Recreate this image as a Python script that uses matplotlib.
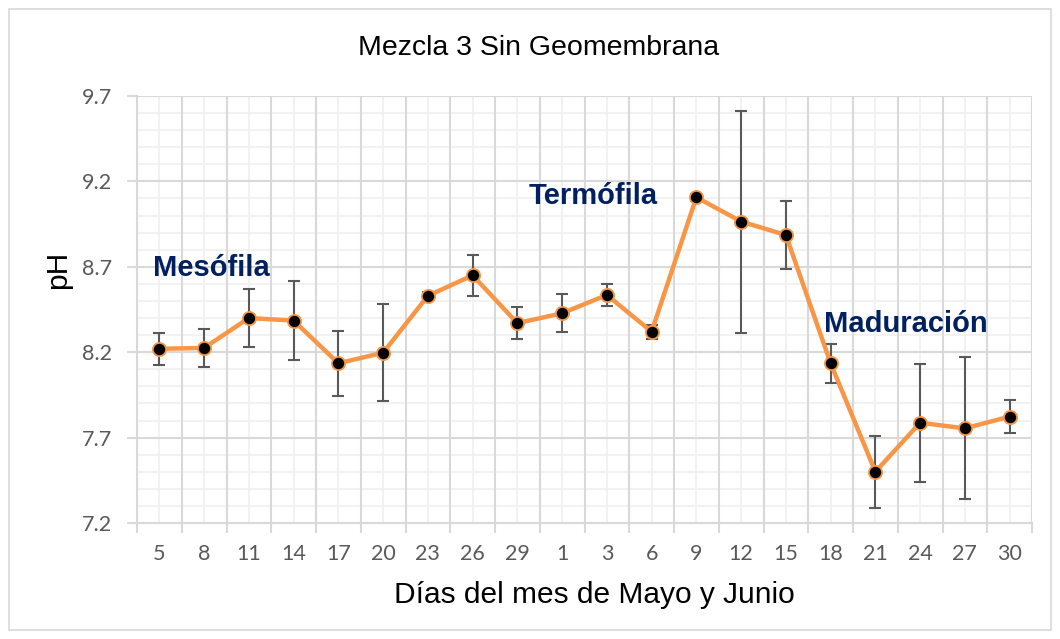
import matplotlib
import numpy as np

matplotlib.use("Agg")
import matplotlib.pyplot as plt
from matplotlib.patches import Rectangle
from matplotlib.ticker import MultipleLocator

DAYS = ["5", "8", "11", "14", "17", "20", "23", "26", "29", "1",
        "3", "6", "9", "12", "15", "18", "21", "24", "27", "30"]
PH = [8.22, 8.225, 8.40, 8.385, 8.135, 8.197, 8.53, 8.65, 8.37, 8.428,
      8.535, 8.32, 9.107, 8.965, 8.886, 8.135, 7.50, 7.787, 7.754, 7.823]
PH_ERR = [0.095, 0.11, 0.17, 0.23, 0.19, 0.285, 0.02, 0.12, 0.095, 0.11,
          0.065, 0.04, 0.02, 0.65, 0.20, 0.113, 0.21, 0.345, 0.415, 0.098]
PHASES = [("Mesófila", -0.14, 8.693), ("Termófila", 8.26, 9.115), ("Maduración", 14.85, 8.365)]

GRID_MAJ = "#d9d9d9"
GRID_MIN = "#f0f0f0"
TICK_C = "#595959"

fig = plt.figure(figsize=(10.6, 6.39), dpi=100)
fig.patches.append(Rectangle((9 / 1060, 9 / 639), 1 - 18 / 1060, 1 - 18 / 639,
                             transform=fig.transFigure, fill=False,
                             edgecolor="#d9d9d9", lw=1.2))
ax = fig.add_axes([137 / 1060, 1 - 523 / 639, (1032 - 137) / 1060, (523 - 96) / 639])

x = np.arange(len(DAYS))
ax.errorbar(x, PH, yerr=PH_ERR, fmt="none", ecolor=TICK_C, elinewidth=1.5,
            capsize=4.5, capthick=1.5, zorder=3)
ax.plot(x, PH, color="#f79646", lw=3.2, marker="o", ms=9.5, mfc="black",
        mec="#f79646", mew=1.3, zorder=4)

ax.set_xlim(-0.5, len(DAYS) - 0.5)
ax.set_ylim(7.2, 9.7)
ax.set_xticks(x)
ax.set_xticklabels(DAYS)
ax.xaxis.set_minor_locator(MultipleLocator(1, offset=0.5))
ax.yaxis.set_minor_locator(MultipleLocator(0.1))
yt = np.arange(7.2, 9.71, 0.5)
ax.set_yticks(yt)
ax.set_yticklabels([f"{v:.1f}" for v in yt])

# major grid: horizontal every 0.5, vertical between categories; minor: 0.1 steps and category centres
for v in np.arange(7.2, 9.71, 0.1):
    major = abs(((v - 7.2) / 0.5) - round((v - 7.2) / 0.5)) < 1e-6
    ax.axhline(v, color=GRID_MAJ if major else GRID_MIN, lw=1.5 if major else 1.2, zorder=1 if major else 0)
for k in range(len(DAYS) + 1):
    ax.axvline(k - 0.5, color=GRID_MAJ, lw=1.5, zorder=1)
for k in range(len(DAYS)):
    ax.axvline(k, color=GRID_MIN, lw=1.2, zorder=0)

for s in ["top", "right"]:
    ax.spines[s].set_visible(False)
for s in ["left", "bottom"]:
    ax.spines[s].set_color(GRID_MAJ)
    ax.spines[s].set_linewidth(1.5)

ax.tick_params(axis="x", which="major", length=0, pad=15, labelsize=15.5, labelcolor=TICK_C)
ax.tick_params(axis="x", which="minor", length=7, width=1.5, color=GRID_MAJ)
ax.tick_params(axis="y", which="major", length=7, width=1.5, color=GRID_MAJ, pad=11,
               labelsize=15.5, labelcolor=TICK_C)
ax.tick_params(axis="y", which="minor", length=0)
for lab in ax.get_xticklabels() + ax.get_yticklabels():
    lab.set_fontfamily("Lato")

fig.text(0.5085, 1 - 48 / 639, "Mezcla 3 Sin Geomembrana", ha="center", va="center",
         fontsize=20.5, family="Liberation Sans")
fig.text(594.5 / 1060, 1 - 595 / 639, "Días del mes de Mayo y Junio", ha="center", va="center",
         fontsize=21.5, family="Liberation Sans")
fig.text(58 / 1060, 1 - 270 / 639, "pH", ha="center", va="center", rotation=90,
         fontsize=21.5, family="Liberation Sans")

for name, xp, yp in PHASES:
    ax.text(xp, yp, name, color="#002060", fontsize=21, fontweight="bold",
            family="Liberation Sans", ha="left", va="center", zorder=5)

fig.savefig("out.png", dpi=100)
